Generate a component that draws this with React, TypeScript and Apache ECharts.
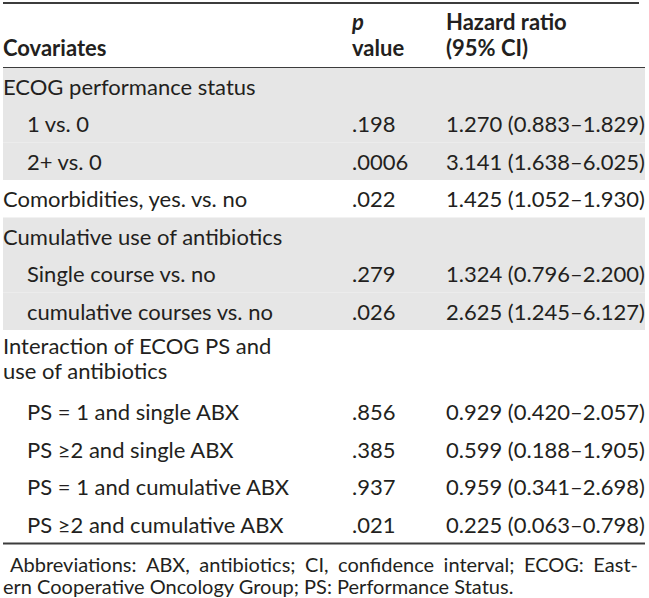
import React, { useEffect, useRef } from "react";
import * as echarts from "echarts";

const headerCovariates = "Covariates";
const headerP = ["p", "value"];
const headerHR = ["Hazard ratio", "(95% CI)"];

const covariates = [
  "ECOG performance status",
  "1 vs. 0",
  "2+ vs. 0",
  "Comorbidities, yes. vs. no",
  "Cumulative use of antibiotics",
  "Single course vs. no",
  "cumulative courses vs. no",
  "Interaction of ECOG PS and\nuse of antibiotics",
  "PS = 1 and single ABX",
  "PS \u22652 and single ABX",
  "PS = 1 and cumulative ABX",
  "PS \u22652 and cumulative ABX",
];
const indented = [false, true, true, false, false, true, true, false, true, true, true, true];
const shaded = [true, true, true, false, true, true, true, false, false, false, false, false];
const pValues = ["", ".198", ".0006", ".022", "", ".279", ".026", "", ".856", ".385", ".937", ".021"];
const hazardRatios = ["", "1.270", "3.141", "1.425", "", "1.324", "2.625", "", "0.929", "0.599", "0.959", "0.225"];
const ciLower = ["", "0.883", "1.638", "1.052", "", "0.796", "1.245", "", "0.420", "0.188", "0.341", "0.063"];
const ciUpper = ["", "1.829", "6.025", "1.930", "", "2.200", "6.127", "", "2.057", "1.905", "2.698", "0.798"];
const footnote = [
  "Abbreviations: ABX, antibiotics; CI, confidence interval; ECOG: East-",
  "ern Cooperative Oncology Group; PS: Performance Status.",
];

const FONT = "Lato, 'Open Sans', sans-serif";
const TEXT = "#231f20";
const GRAY = "#e6e6e6";
const LINE = "#3c3c3c";

function measure(text: string, font: string): number {
  const t = new (echarts.graphic as any).Text({ style: { text, font } });
  return t.getBoundingRect().width;
}

export default function App() {
  const ref = useRef<HTMLDivElement>(null);
  useEffect(() => {
    if (!ref.current) return;
    const chart = echarts.init(ref.current, null, { renderer: "svg" });
    const left = 3;
    const right = 645;
    const xCov = 3;
    const xIndent = 27;
    const xP = 352;
    const xHR = 446;
    const fs = 22;
    const els: any[] = [];

    // header
    els.push({ type: "text", x: xCov, y: 47, style: { text: headerCovariates, font: `bold ${fs}px ${FONT}`, fill: TEXT, verticalAlign: "middle" } });
    els.push({ type: "text", x: xP, y: 21, style: { text: headerP[0], font: `italic bold ${fs}px ${FONT}`, fill: TEXT, verticalAlign: "middle" } });
    els.push({ type: "text", x: xP, y: 47, style: { text: headerP[1], font: `bold ${fs}px ${FONT}`, fill: TEXT, verticalAlign: "middle" } });
    els.push({ type: "text", x: xHR, y: 21, style: { text: headerHR[0], font: `bold ${fs}px ${FONT}`, fill: TEXT, verticalAlign: "middle" } });
    els.push({ type: "text", x: xHR, y: 47, style: { text: headerHR[1], font: `bold ${fs}px ${FONT}`, fill: TEXT, verticalAlign: "middle" } });

    // rows
    const top = 67.5;
    const rowH = 37.5;
    const lineGap = 25;
    let y = top;
    const rects: any[] = [];
    const texts: any[] = [];
    covariates.forEach((c, i) => {
      const lines = c.split("\n");
      const multi = lines.length > 1;
      const h = multi ? 63 : rowH;
      if (shaded[i]) {
        rects.push({ type: "rect", shape: { x: left, y: y, width: right - left, height: h }, style: { fill: GRAY } });
      }
      const cy = y + h / 2;
      const firstY = multi ? cy - 3.5 - ((lines.length - 1) * lineGap) / 2 : cy;
      lines.forEach((ln, k) => {
        texts.push({
          type: "text",
          x: indented[i] ? xIndent : xCov,
          y: firstY + k * lineGap,
          style: { text: ln, font: `${fs}px ${FONT}`, fill: TEXT, verticalAlign: "middle" },
        });
      });
      if (pValues[i]) {
        texts.push({ type: "text", x: xP, y: cy, style: { text: pValues[i], font: `${fs}px ${FONT}`, fill: TEXT, verticalAlign: "middle" } });
      }
      if (hazardRatios[i]) {
        texts.push({
          type: "text",
          x: xHR,
          y: cy,
          style: { text: `${hazardRatios[i]} (${ciLower[i]}\u2013${ciUpper[i]})`, font: `${fs}px ${FONT}`, fill: TEXT, verticalAlign: "middle" },
        });
      }
      y += h;
    });
    const bottom = y;
    els.push(...rects, ...texts);

    // rules
    els.push({ type: "line", shape: { x1: left, y1: 3, x2: 639, y2: 3 }, style: { stroke: LINE, lineWidth: 2 } });
    els.push({ type: "line", shape: { x1: left, y1: top, x2: right, y2: top }, style: { stroke: LINE, lineWidth: 1.2 } });
    els.push({ type: "line", shape: { x1: left, y1: bottom + 0.5, x2: right, y2: bottom + 0.5 }, style: { stroke: LINE, lineWidth: 2 } });

    // footnote (first line justified)
    const fnFont = `20px ${FONT}`;
    const words = footnote[0].split(" ");
    const wWidths = words.map((w) => measure(w, fnFont));
    const x0 = 10;
    const x1 = 638;
    const total = wWidths.reduce((a, b) => a + b, 0);
    const gap = (x1 - x0 - total) / (words.length - 1);
    let wx = x0;
    words.forEach((w, i) => {
      els.push({ type: "text", x: wx, y: 563.5, style: { text: w, font: fnFont, fill: TEXT, verticalAlign: "middle" } });
      wx += wWidths[i] + gap;
    });
    els.push({ type: "text", x: 3, y: 585.5, style: { text: footnote[1], font: fnFont, fill: TEXT, verticalAlign: "middle" } });

    chart.setOption({ animation: false, graphic: { elements: els } });
    return () => chart.dispose();
  }, []);
  return <div ref={ref} style={{ position: "fixed", left: 0, top: 0, width: 649, height: 598, background: "#fff" }} />;
}
